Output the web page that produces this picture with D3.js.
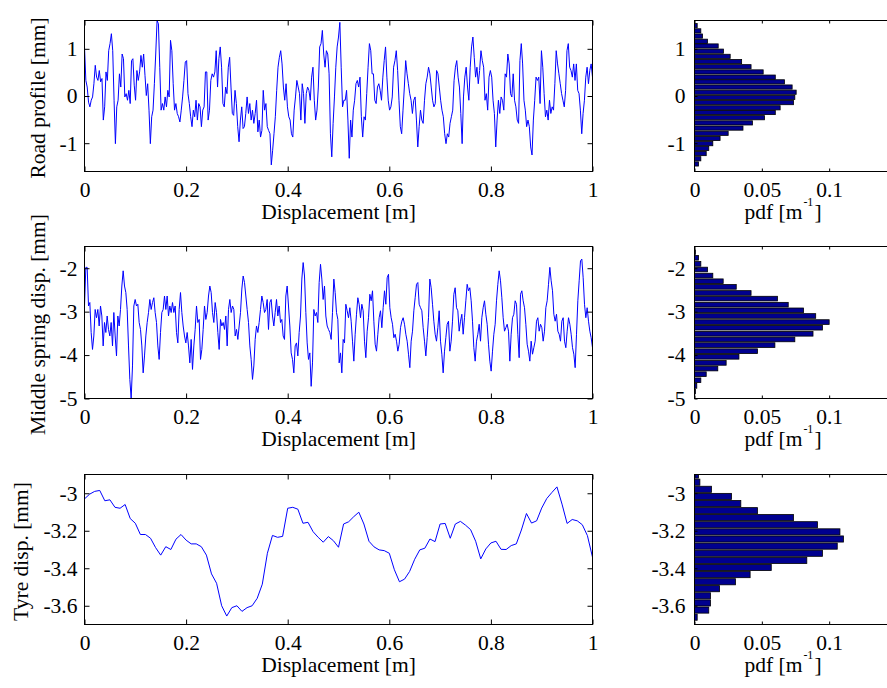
<!DOCTYPE html>
<html><head><meta charset="utf-8">
<script src="https://cdn.jsdelivr.net/npm/d3@7"></script>
<style>
body{margin:0;background:#fff;}
svg{display:block;font-family:"Liberation Serif","Times New Roman",serif;}
</style>
</head><body>
<svg id="chart" width="887" height="688"></svg>
<script>
// ---------------- data ----------------
const xTicks = [0, 0.2, 0.4, 0.6, 0.8, 1];
const pdfTicks = [0, 0.05, 0.1];
const xRange = [0, 1];
const pdfRange = [0, 0.15];

const roadTicks = [-1, 0, 1];
const springTicks = [-5, -4, -3, -2];
const tyreTicks = [-3.6, -3.4, -3.2, -3];
const roadRange = [-1.6, 1.6];
const springRange = [-5, -1.5];
const tyreRange = [-3.7, -2.9];

const rowLabels = ["Road profile [mm]", "Middle spring disp. [mm]", "Tyre disp. [mm]"];
const xLabel = "Displacement [m]";
const pdfLabel = ["pdf [m", "-1", "]"];

// road profile [mm], sampled uniformly over 0..1 m
const roadProfile = [
1.04,0.33,0.19,-0.13,-0.23,-0.09,-0.02,0.26,0.65,0.40,
0.33,0.54,0.30,0.37,-0.51,-0.23,0.51,0.33,0.96,1.11,
1.32,0.96,-0.09,-1.01,-0.23,-0.09,0.47,0.19,0.89,0.79,
-0.02,0.05,-0.09,0.12,-0.16,0.75,0.79,0.23,-0.09,0.54,
0.33,0.51,0.86,0.61,0.89,0.44,0.01,0.26,-0.30,-1.01,
-0.44,-0.30,0.26,0.89,1.60,1.53,0.61,-0.30,-0.16,-0.30,
-0.02,-0.23,0.12,-0.02,1.18,0.96,0.26,-0.30,-0.16,-0.37,
-0.44,-0.55,-0.30,-0.02,0.33,0.72,0.75,0.05,-0.16,-0.44,
-0.65,-0.30,-0.44,-0.09,-0.51,-0.16,-0.23,-0.65,-0.30,-0.23,
0.51,0.51,-0.51,-0.30,0.33,0.47,0.40,0.51,0.96,0.19,
0.79,1.04,0.61,-0.16,-0.23,0.19,0.05,0.61,0.82,0.19,
-0.37,-0.41,0.12,-0.16,-0.65,-0.97,-0.51,-0.23,-0.69,-0.65,
-0.37,-0.02,-0.37,-0.16,-0.51,-0.30,-0.58,-0.37,-0.09,-0.76,
-0.51,-0.87,-0.73,0.12,-0.30,-0.16,-0.65,-0.73,-0.80,-1.46,
-1.15,-0.80,-0.44,0.12,0.61,0.82,0.96,0.68,0.19,-0.09,
0.26,-0.23,-0.44,-0.51,-0.80,-0.87,-0.30,-0.02,0.33,0.19,
0.05,-0.51,0.26,0.05,-0.58,0.05,0.19,0.12,-0.09,0.40,
0.61,-0.09,-0.51,-0.30,
0.19,1.04,1.11,1.39,0.89,0.61,0.96,0.89,0.47,-0.80,
-1.29,-0.58,-0.02,0.61,1.04,1.25,1.56,0.61,-0.23,-0.09,
-0.09,0.12,-0.51,-1.32,-0.51,-0.87,-0.30,-0.09,0.26,0.33,
0.19,0.40,-0.44,-0.87,-0.44,-0.51,0.05,0.61,1.11,0.96,
0.47,0.47,-0.09,-0.16,0.19,0.26,0.12,-0.09,0.40,0.75,
1.04,0.40,-0.09,-0.30,-0.23,-0.02,0.61,0.75,0.96,0.54,
-0.09,-0.65,-0.80,-0.30,0.19,0.75,0.47,0.26,0.05,-0.09,
-0.37,-0.09,-0.02,-0.51,-1.08,-0.65,-0.30,-0.51,-0.58,-0.09,
0.26,0.40,0.61,0.47,0.19,-0.09,-0.23,-0.16,0.54,0.47,
0.19,-0.09,-0.30,-0.44,-0.80,-1.01,-0.80,-0.87,-0.58,-0.44,
-0.30,0.33,0.61,0.75,0.40,0.19,-0.37,-1.01,-0.02,0.40,
0.61,0.19,-0.09,0.61,1.04,1.25,0.82,0.40,0.61,0.26,
0.54,0.96,0.75,0.61,-0.09,0.05,-0.30,0.40,0.54,0.40,
-0.09,-0.37,-1.08,-0.51,-0.09,-0.37,-0.02,-0.09,-0.30,0.47,
0.40,0.89,0.68,0.05,-0.02,0.47,-0.09,-0.23,-0.51,-0.58,
0.75,1.11,0.68,-0.09,-0.30,-0.65,-0.51,-0.65,-1.08,-1.25,
-0.51,-0.09,0.40,0.33,0.40,-0.16,0.96,0.61,0.05,-0.44,
-0.30,-0.51,-0.09,-0.37,-0.23,-0.30,0.26,0.96,0.68,0.47,
0.26,0.05,-0.09,-0.23,0.12,0.96,1.11,0.61,0.54,0.40,
0.68,0.33,0.68,0.12,0.05,-0.30,-0.80,-0.37,-0.09,0.40,
0.61,0.26,0.54,0.68,0.40
];

// middle spring displacement [mm], sampled uniformly over 0..1 m
const springDisp = [
-2.87,-1.98,-1.98,-2.87,-2.79,-3.48,-3.87,-3.56,-2.95,-3.14,
-2.95,-3.33,-2.87,-3.10,-3.79,-3.25,-3.48,-3.10,-3.41,-3.56,
-3.25,-3.79,-3.02,-3.56,-4.02,-3.10,-3.33,-2.95,-2.41,-2.06,
-2.41,-2.56,-2.95,-3.79,-4.56,-5.00,-4.25,-2.87,-2.72,-2.87,
-2.83,-3.25,-3.41,-3.79,-4.41,-4.02,-3.56,-3.25,-3.02,-2.72,
-2.95,-2.79,-2.68,-3.02,-3.25,-3.79,-4.10,-3.48,-3.02,-2.95,
-2.64,-2.95,-2.64,-3.10,-2.87,-3.02,-2.79,-3.02,-2.87,-3.48,
-3.72,-2.95,-2.56,-3.02,-3.33,-3.56,-3.72,-3.48,-3.79,-4.18,
-3.64,-4.33,-3.79,-3.41,-2.87,-3.25,-3.18,-4.10,-3.87,-3.41,
-2.87,-3.18,-3.02,-2.64,-2.41,-2.56,-3.02,-3.25,-2.79,-3.02,
-3.48,-3.87,-3.18,-3.33,-3.25,-3.41,-3.10,-3.79,-2.95,-2.72,
-3.02,-2.87,-2.95,-3.56,-3.41,-3.64,-3.33,-3.02,-2.48,-2.18,
-2.33,-2.64,-2.95,-3.25,-3.79,-4.10,-4.56,-4.25,-3.64,-3.33,
-3.48,-3.25,-2.95,-2.64,-2.79,-3.02,-2.95,-2.72,-3.41,-2.79,
-2.72,-3.10,-3.33,-3.02,-2.72,-3.10,-2.87,-3.25,-3.18,-3.56,
-3.64,-2.64,-2.41,-2.87,-3.33,-3.95,-4.10,-4.41,-3.79,-3.72,
-4.02,-3.48,-3.10,-2.25,-1.87,-2.18,-3.02,-3.72,-4.10,-3.95,
-4.72,-4.18,-2.95,-3.10,-3.02,-3.25,-2.33,-1.91,-2.25,-2.72,
-2.41,-3.10,-3.33,-3.41,-3.48,-3.64,-3.02,-2.25,-2.56,-3.02,
-3.18,-4.18,-3.95,-4.41,-3.64,-3.72,
-2.83,-2.98,-3.14,-2.91,-3.22,-3.68,-4.14,-3.52,-3.06,-2.68,
-2.83,-3.14,-2.83,-2.98,-3.68,-4.06,-3.45,-3.14,-2.60,-2.75,
-2.52,-3.22,-3.75,-3.91,-3.52,-3.14,-2.98,-3.37,-2.91,-2.52,
-2.83,-2.22,-2.14,-2.91,-3.14,-3.29,-3.60,-3.52,-3.68,-3.91,
-3.75,-3.37,-3.22,-3.14,-3.29,-3.52,-3.68,-3.98,-4.29,-3.68,
-3.45,-2.98,-2.68,-2.37,-2.33,-2.83,-2.91,-2.98,-3.37,-3.68,
-4.02,-3.60,-3.14,-2.25,-2.45,-2.83,-3.22,-3.52,-3.68,-3.37,
-2.98,-3.68,-3.98,-4.41,-3.91,-3.60,-3.29,-3.22,-3.91,-3.68,
-3.22,-2.60,-2.45,-2.91,-2.98,-3.45,-3.22,-3.06,-3.52,-3.14,
-2.75,-2.37,-2.52,-2.45,-2.75,-3.22,-3.83,-4.14,-3.68,-3.52,
-3.29,-3.68,-3.14,-2.91,-2.75,-3.06,-3.29,-3.75,-4.14,-4.37,
-3.91,-3.52,-3.29,-2.75,-2.37,-2.06,-2.29,-2.68,-3.14,-3.45,
-3.37,-3.29,-3.45,-4.14,-3.52,-3.14,-3.06,-2.75,-2.83,-3.52,
-4.06,-2.60,-2.52,-2.75,-2.91,-3.29,-3.75,-3.91,-4.14,-3.68,
-3.98,-3.83,-3.68,-3.22,-3.14,-3.45,-3.29,-3.37,-3.68,-3.45,
-2.91,-2.75,-2.37,-1.98,-2.29,-2.52,-3.06,-3.22,-3.06,-3.45,
-3.52,-3.68,-3.22,-3.14,-3.68,-3.83,-3.45,-3.14,-3.29,-3.52,
-3.83,-3.98,-4.29,-3.52,-2.75,-2.29,-1.83,-1.79,-2.22,-2.83,
-3.14,-2.91,-3.22,-3.45,-3.60,-3.83
];

// tyre displacement [mm], every 0.01 m
const tyreDisp = [
-3.03,-3.005,-2.99,-2.985,-3.04,-3.035,-3.075,-3.08,-3.06,-3.135,
-3.16,-3.22,-3.22,-3.24,-3.29,-3.33,-3.285,-3.30,-3.245,-3.22,
-3.25,-3.27,-3.27,-3.285,-3.33,-3.43,-3.48,-3.60,-3.655,-3.61,
-3.60,-3.63,-3.61,-3.60,-3.56,-3.485,-3.32,-3.225,-3.235,-3.23,
-3.08,-3.075,-3.085,-3.16,-3.155,-3.205,-3.235,
-3.261,-3.231,-3.253,-3.288,-3.164,-3.152,-3.125,-3.101,-3.164,-3.256,
-3.286,-3.302,-3.306,-3.320,-3.408,-3.472,-3.458,-3.417,-3.352,-3.302,
-3.293,-3.244,-3.258,-3.164,-3.161,-3.240,-3.164,-3.150,-3.170,-3.194,
-3.256,-3.350,-3.297,-3.265,-3.256,-3.299,-3.300,-3.279,-3.270,-3.196,
-3.108,-3.159,-3.147,-3.079,-3.028,-2.996,-2.966,-3.058,-3.161,-3.140,
-3.147,-3.168,-3.226,-3.341
];

// histograms: bin centres [mm] and pdf values
const roadBins = [1.49,1.38,1.27,1.16,1.06,0.95,0.84,0.73,0.62,0.51,0.40,0.30,0.19,0.08,-0.03,-0.14,-0.25,-0.35,-0.46,-0.57,-0.68,-0.79,-0.90,-1.01,-1.11,-1.22,-1.33,-1.44];
const roadPdf = [0.002,0.0047,0.006,0.0097,0.0176,0.0215,0.0265,0.035,0.042,0.051,0.060,0.0668,0.0725,0.0755,0.0745,0.0735,0.0636,0.060,0.052,0.043,0.036,0.025,0.019,0.0136,0.0106,0.0087,0.0047,0.003];

const springBins = [-1.63,-1.76,-1.90,-2.03,-2.17,-2.30,-2.43,-2.57,-2.70,-2.84,-2.97,-3.10,-3.24,-3.37,-3.51,-3.64,-3.77,-3.91,-4.04,-4.18,-4.31,-4.44,-4.58,-4.71,-4.84];
const springPdf = [0.0007,0.003,0.0047,0.0097,0.0136,0.0213,0.031,0.042,0.0616,0.0696,0.081,0.090,0.100,0.095,0.088,0.0745,0.0597,0.0468,0.033,0.0235,0.0173,0.0087,0.0047,0.0017,0.0007];

const tyreBins = [-2.903,-2.941,-2.979,-3.017,-3.055,-3.093,-3.130,-3.168,-3.206,-3.244,-3.282,-3.320,-3.358,-3.396,-3.434,-3.472,-3.509,-3.547,-3.585,-3.623,-3.661];
const tyrePdf = [0.003,0.004,0.0126,0.0275,0.0344,0.0468,0.0735,0.0913,0.108,0.1106,0.106,0.095,0.0834,0.057,0.0413,0.0304,0.0186,0.0119,0.0119,0.0106,0.002];

// ---------------- drawing ----------------
const svg = d3.select('#chart');
svg.append('rect').attr('width', 887).attr('height', 688).attr('fill', '#fff');

const FS = 21.5;
const fmt = d => String(d);
const lineX = [84.5, 592.5];
const histX = [694.5, 896.5];
const rowY = [[20.5, 171.5], [246.5, 398.5], [474.5, 624.5]];
const yLabelX = [45, 45, 28];

const rows = [
  {series: roadProfile, range: roadRange, ticks: roadTicks, bins: roadBins, pdf: roadPdf},
  {series: springDisp, range: springRange, ticks: springTicks, bins: springBins, pdf: springPdf},
  {series: tyreDisp, range: tyreRange, ticks: tyreTicks, bins: tyreBins, pdf: tyrePdf}
];

function styleAxis(g) {
  g.attr('font-family', null).attr('font-size', null);
  g.select('.domain').remove();
  g.selectAll('line').attr('stroke', '#000').attr('stroke-width', 1);
  g.selectAll('text').attr('fill', '#000').style('font-size', FS + 'px')
    .style('font-family', '"Liberation Serif","Times New Roman",serif');
}

function frame(g, x, y, xt, yt, tlen, ypad, id) {
  const [x0, x1] = x.range();
  const [y1, y0] = y.range();
  g.append('g').attr('transform', `translate(0,${y1})`)
    .call(d3.axisBottom(x).tickValues(xt).tickFormat(fmt).tickSizeInner(-tlen).tickSizeOuter(0).tickPadding(10))
    .call(styleAxis);
  g.append('g').attr('transform', `translate(0,${y0})`)
    .call(d3.axisTop(x).tickValues(xt).tickFormat('').tickSizeInner(-tlen).tickSizeOuter(0))
    .call(styleAxis);
  g.append('g').attr('transform', `translate(${x0},0)`)
    .call(d3.axisLeft(y).tickValues(yt).tickFormat(fmt).tickSizeInner(-tlen).tickSizeOuter(0).tickPadding(ypad))
    .call(styleAxis);
  g.append('g').attr('transform', `translate(${x1},0)`)
    .call(d3.axisRight(y).tickValues(yt).tickFormat('').tickSizeInner(-tlen).tickSizeOuter(0))
    .call(styleAxis);
  g.append('rect').attr('x', x0).attr('y', y0).attr('width', x1 - x0).attr('height', y1 - y0)
    .attr('fill', 'none').attr('stroke', '#000').attr('stroke-width', 1);
  g.append('clipPath').attr('id', id).append('rect')
    .attr('x', x0).attr('y', y0).attr('width', x1 - x0).attr('height', y1 - y0);
}

rows.forEach((r, i) => {
  const [top, bot] = rowY[i];
  const g = svg.append('g');

  // ---- displacement panel ----
  const x = d3.scaleLinear().domain(xRange).range(lineX);
  const y = d3.scaleLinear().domain(r.range).range([bot, top]);
  const n = r.series.length;
  const line = d3.line().x((d, k) => x(k / (n - 1))).y(d => y(d));
  const plot = g.append('g').attr('clip-path', `url(#clipL${i})`);
  plot.append('path').datum(r.series).attr('d', line)
    .attr('fill', 'none').attr('stroke', '#0000ff').attr('stroke-width', 1)
    .attr('stroke-linejoin', 'round');
  frame(g, x, y, xTicks, r.ticks, 5, 7, `clipL${i}`);

  g.append('text').attr('x', (lineX[0] + lineX[1]) / 2).attr('y', bot + 47.5)
    .attr('text-anchor', 'middle').style('font-size', FS + 'px').text(xLabel);
  g.append('text')
    .attr('transform', `translate(${yLabelX[i]},${(top + bot) / 2 + 2}) rotate(-90)`)
    .attr('text-anchor', 'middle').style('font-size', FS + 'px').text(rowLabels[i]);

  // ---- pdf histogram panel ----
  const hx = d3.scaleLinear().domain(pdfRange).range(histX);
  const hy = d3.scaleLinear().domain(r.range).range([bot, top]);
  const bw = Math.abs(r.bins[0] - r.bins[1]);
  const bars = g.append('g').attr('clip-path', `url(#clipH${i})`);
  bars.selectAll('rect').data(r.bins).join('rect')
    .attr('x', hx(0))
    .attr('y', d => hy(d + bw / 2) + 0.5)
    .attr('width', (d, k) => hx(r.pdf[k]) - hx(0))
    .attr('height', d => Math.max(0.5, hy(d - bw / 2) - hy(d + bw / 2) - 1))
    .attr('fill', '#00008f').attr('stroke', '#000').attr('stroke-width', 0.8);
  frame(g, hx, hy, pdfTicks, r.ticks, 3, 9, `clipH${i}`);

  // pdf [m^-1] label built from three separate texts laid out side by side
  const by = bot + 47.5;
  const parts = [
    g.append('text').attr('y', by).style('font-size', FS + 'px').text(pdfLabel[0]),
    g.append('text').attr('y', by - 13).style('font-size', '12px').text(pdfLabel[1]),
    g.append('text').attr('y', by).style('font-size', FS + 'px').text(pdfLabel[2])
  ];
  const widths = parts.map(p => p.node().getComputedTextLength());
  const gap = 1;
  const total = d3.sum(widths) + 2 * gap;
  let cx = 783 - total / 2;
  parts.forEach((p, k) => { p.attr('x', cx); cx += widths[k] + gap; });
});
</script>
</body></html>
